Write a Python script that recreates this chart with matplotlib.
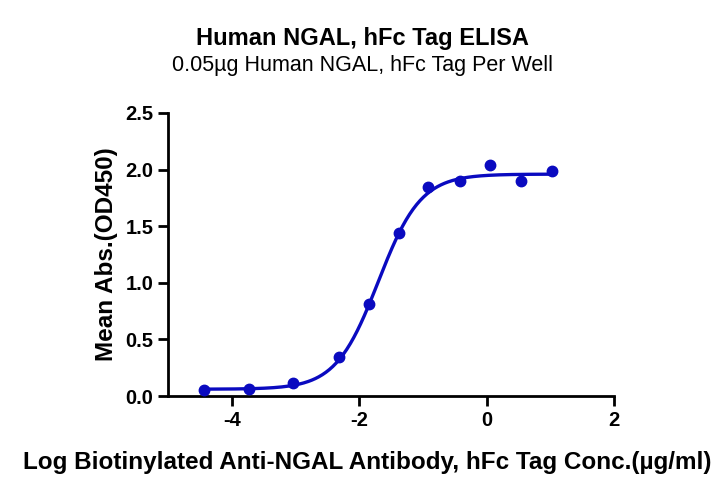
import numpy as np
import matplotlib.pyplot as plt

plt.rcParams['font.family'] = ['Liberation Sans', 'DejaVu Sans']
plt.rcParams['axes.unicode_minus'] = False

# measured points (log conc, OD450)
log_conc = [-4.44, -3.73, -3.04, -2.32, -1.85, -1.38, -0.92, -0.42, 0.05, 0.54, 1.02]
od450 = [0.05, 0.06, 0.115, 0.345, 0.815, 1.44, 1.85, 1.90, 2.04, 1.90, 1.99]

# 4PL fit parameters
bottom, top, log_ec50, hill = 0.06, 1.96, -1.70, 1.30

blue = '#0a0ac0'

fig = plt.figure(figsize=(7.2, 5.01), dpi=100)
ax = fig.add_axes([168/720, 1-396/501, (614-168)/720, (396-113)/501])

xs = np.linspace(min(log_conc), max(log_conc), 300)
ys = bottom + (top - bottom) / (1 + 10**((log_ec50 - xs) * hill))
ax.plot(xs, ys, color=blue, lw=2.4, zorder=2)
ax.plot(log_conc, od450, 'o', color=blue, ms=7.5, zorder=3, clip_on=False)

ax.set_xlim(-5, 2)
ax.set_ylim(0, 2.5)
ax.set_xticks([-4, -2, 0, 2])
ax.set_yticks([0, 0.5, 1.0, 1.5, 2.0, 2.5])
ax.set_yticklabels(['0.0', '0.5', '1.0', '1.5', '2.0', '2.5'])

for s in ['top', 'right']:
    ax.spines[s].set_visible(False)
for s in ['left', 'bottom']:
    ax.spines[s].set_linewidth(2)
ax.tick_params(direction='out', length=7.5, width=2, labelsize=14.5, pad=3)
for lab in ax.get_xticklabels() + ax.get_yticklabels():
    lab.set_fontweight('bold')

ax.set_ylabel('Mean Abs.(OD450)', fontsize=17.5, fontweight='bold', labelpad=5)
fig.text(367/720, 1-463/501, 'Log Biotinylated Anti-NGAL Antibody, hFc Tag Conc.(\u00b5g/ml)',
         ha='center', va='center', fontsize=17.5, fontweight='bold')

fig.text(362/720, 1-38/501, 'Human NGAL, hFc Tag ELISA', ha='center', va='center',
         fontsize=17, fontweight='bold')
fig.text(362/720, 1-66/501, '0.05\u00b5g Human NGAL, hFc Tag Per Well', ha='center', va='center',
         fontsize=15.5)

fig.savefig('out.png', dpi=100)
